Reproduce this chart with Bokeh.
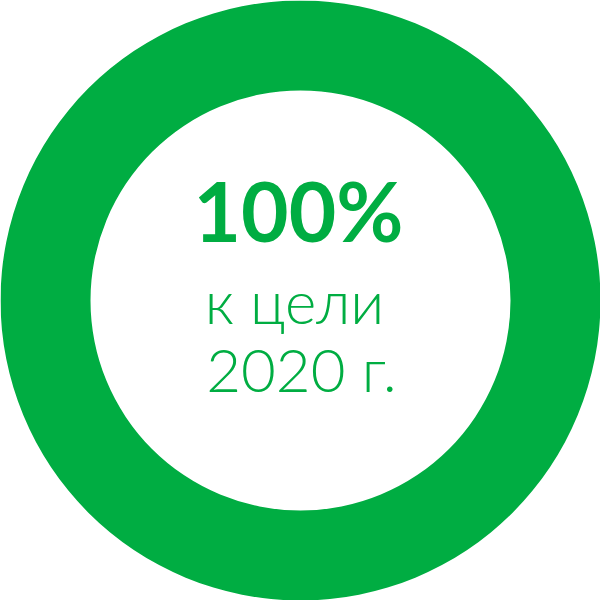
from math import pi

from bokeh.plotting import figure
from bokeh.models import ColumnDataSource
from bokeh.core.properties import value
from bokeh.embed import file_html
from bokeh.resources import INLINE

# progress toward the 2020 target, in percent
progress = [100]
headline = ["100%"]
caption_lines = ["к цели", "2020 г."]

green = "#00AD42"

ring = ColumnDataSource(data=dict(
    x=[0], y=[0],
    start=[pi / 2],
    end=[pi / 2 - 2 * pi * p / 100 for p in progress],
))

p = figure(width=600, height=600, x_range=(-300, 300), y_range=(-300, 300),
           output_backend="svg", toolbar_location=None,
           min_border=0, outline_line_color=None)
p.axis.visible = False
p.grid.visible = False
p.background_fill_color = "white"

p.annular_wedge(x="x", y="y", inner_radius=210, outer_radius=300,
                start_angle="start", end_angle="end", direction="clock",
                source=ring, fill_color=green, line_color=None)

p.text(x=[-2], y=[91], text=headline, text_font=value("Lato"),
       text_font_style="bold", text_font_size="82px", text_color=green,
       text_align="center", text_baseline="alphabetic")

p.text(x=[-6, 1], y=[0, -68], text=caption_lines, text_font=value("Lato Light"),
       text_font_size="60px", text_color=green,
       text_align="center", text_baseline="alphabetic")

open("out.html", "w").write(file_html(p, INLINE))
